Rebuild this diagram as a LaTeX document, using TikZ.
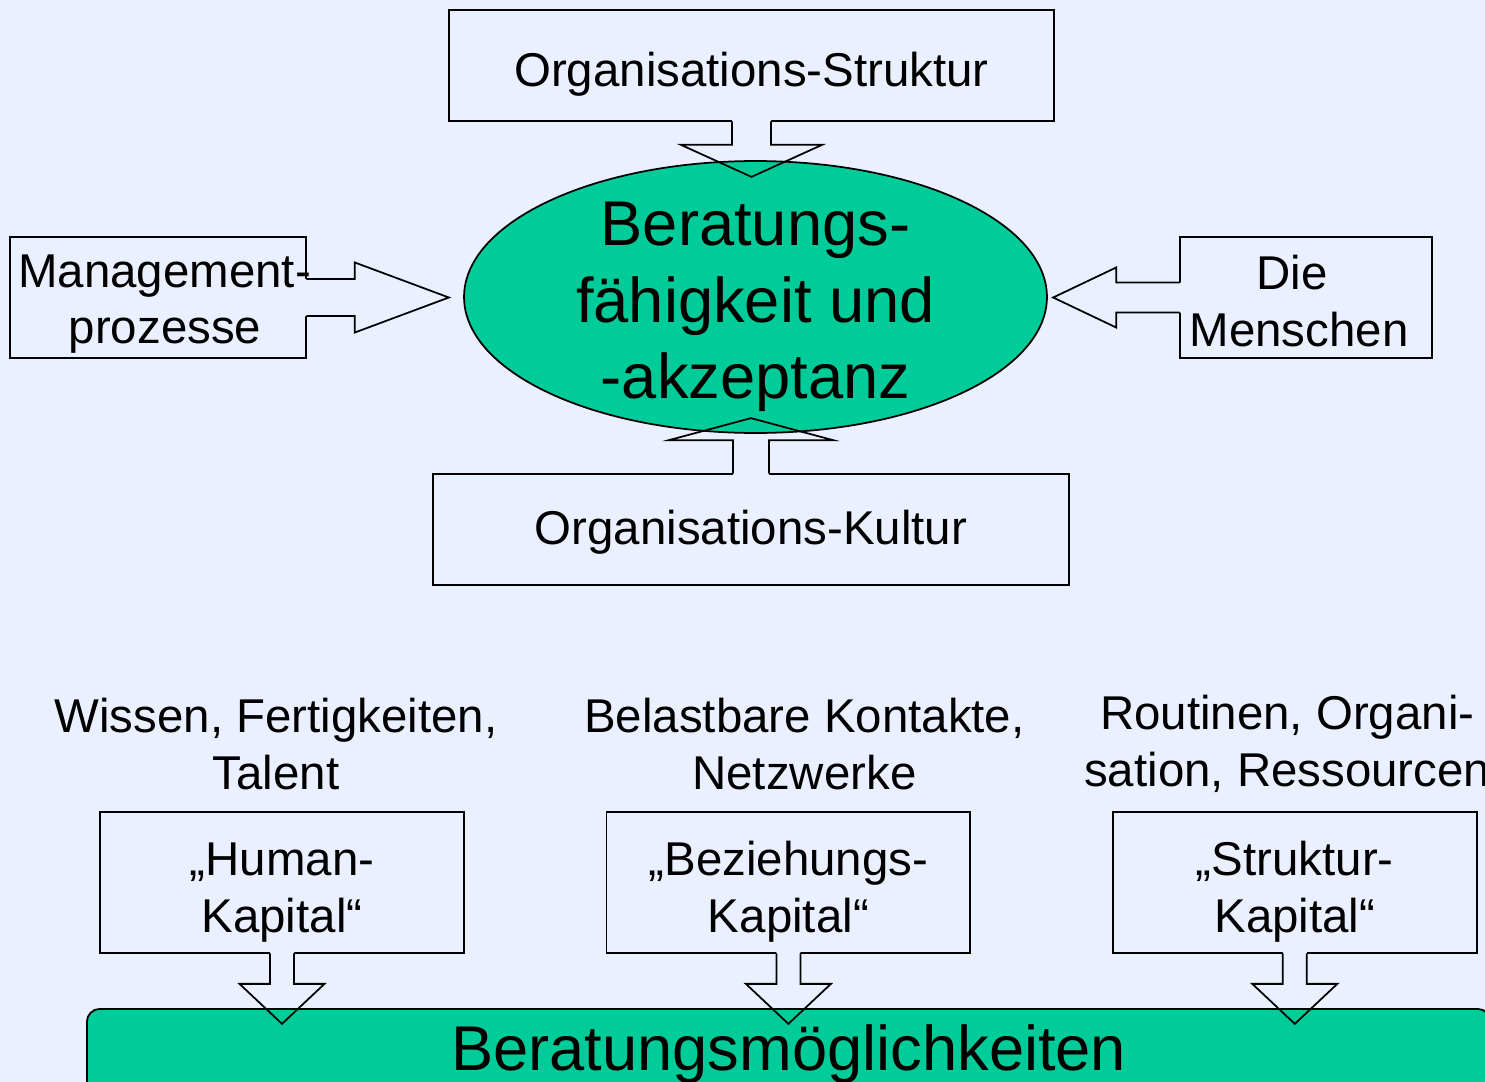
\documentclass[tikz,border=0pt]{standalone}
\usepackage{fontspec}
\setmainfont{Liberation Sans}
\usetikzlibrary{shapes}

\definecolor{paper}{HTML}{EAF0FF}
\definecolor{mint}{HTML}{00CC99}

\tikzset{
  pics/hollow/.style n args={5}{code={
    \path [pic actions] (-#1,-#5) -- (-#1,#2) -- (-#3,#2) -- (0,#2+#4) -- (#3,#2) -- (#1,#2) -- (#1,-#5);
  }}
}

\begin{document}
\begin{tikzpicture} [x=0.02cm, y=-0.02cm, node distance=10.13cm,
  lift/.style={execute at begin node={\rule{0pt}{#1}}},
  box/.style={rectangle, draw, line width=1pt, align=center, inner sep=0pt, font=\fontsize{27}{32.3}\selectfont},
  note/.style={align=center, inner sep=0pt, font=\fontsize{27}{32.3}\selectfont},
  core/.style={ellipse, draw, fill=mint, line width=1pt, align=center, inner xsep=0pt, inner ysep=-30pt, minimum width=11.66cm, minimum height=5.44cm, font=\fontsize{36}{43.5}\selectfont},
  bar/.style={rectangle, draw, fill=mint, line width=1pt, rounded corners=0.26cm, inner sep=0pt, font=\fontsize{36}{43}\selectfont}]
  \useasboundingbox (0,0) rectangle (1485,1082);
  \clip (0,0) rectangle (1485,1082);
  \fill [paper] (0,0) rectangle (1485,1082);

  % Beratungsfaehigkeit und -akzeptanz
  \node [box, lift=29pt, minimum width=12.1cm, minimum height=2.22cm] (struktur) at (751.5,65.5) {Organisations-Struktur};
  \node [box, lift=22.5pt, minimum width=12.72cm, minimum height=2.22cm] (kultur) at (751,529.5) {Organisations-Kultur};
  \node [box, lift=58.5pt, minimum width=5.92cm, minimum height=2.42cm] (mgmt) at (158,297.5) {Management-\hspace*{-0.26cm}\\\hspace*{0.28cm}prozesse};
  \node [box, lift=56pt, minimum width=5.04cm, minimum height=2.42cm] (menschen) at (1306,297.5) {Die\hspace*{0.56cm}\\Menschen\hspace*{0.28cm}};

  % Beratungsmoeglichkeiten
  \node [box, lift=62pt, minimum width=7.28cm, minimum height=2.82cm] (human) at (282,882.5) {„Human-\\Kapital“};
  \node [box, lift=62pt, minimum width=7.28cm, minimum height=2.82cm, right of=human] (beziehung) {„Beziehungs-\\Kapital“};
  \node [box, lift=62pt, minimum width=7.28cm, minimum height=2.82cm, right of=beziehung] (strukturkap) {„Struktur-\\Kapital“};
  \node [note, above of=human, node distance=2.77cm, xshift=-0.12cm] (wissen) {Wissen, Fertigkeiten,\\Talent};
  \node [note, above of=beziehung, node distance=2.77cm, xshift=0.32cm] (kontakte) {Belastbare Kontakte,\\Netzwerke};
  \node [note, above of=strukturkap, node distance=2.77cm, xshift=-0.15cm] (routinen) {Routinen, Organi-\\sation, Ressourcen};

  % open the boxes where the arrows leave
  \pic [fill=paper] at (struktur.south) {hollow={19.5}{23}{70.5}{32}{3}};
  \pic [fill=paper, rotate=180] at (kultur.north) {hollow={18}{33}{82}{22}{3}};
  \pic [fill=paper, rotate=90] at (mgmt.east) {hollow={18.5}{48}{35}{94}{3}};
  \pic [fill=paper, rotate=-90] at (menschen.west) {hollow={15}{63}{30}{63}{3}};
  \foreach \k in {human,beziehung,strukturkap}
    \pic [fill=paper] at (\k.south) {hollow={12}{30}{42.5}{40}{3}};

  \node [core, lift=123pt] (core) at (755.5,297) {Beratungs-\\fähigkeit und\\-akzeptanz};
  \node [bar, minimum width=28.08cm, minimum height=1.8cm, anchor=north west] (moeglich) at (86,1008) {Beratungsmöglichkeiten};

  % Draw arrows
  \pic [draw, line width=1pt] at (struktur.south) {hollow={19.5}{23}{70.5}{32}{0.5}};
  \pic [draw, line width=1pt, rotate=180] at (kultur.north) {hollow={18}{33}{82}{22}{0.5}};
  \pic [draw, line width=1pt, rotate=90] at (mgmt.east) {hollow={18.5}{48}{35}{94}{0.5}};
  \pic [draw, line width=1pt, rotate=-90] at (menschen.west) {hollow={15}{63}{30}{63}{0.5}};
  \foreach \k in {human,beziehung,strukturkap}
    \pic [draw, line width=1pt] at (\k.south) {hollow={12}{30}{42.5}{40}{0.5}};
\end{tikzpicture}
\end{document}
